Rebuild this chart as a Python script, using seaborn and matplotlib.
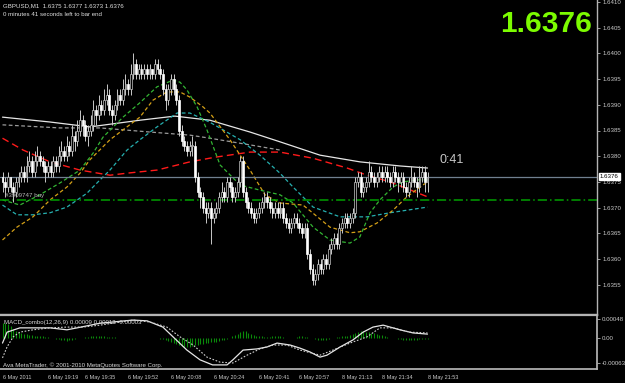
import numpy as np
import pandas as pd
import matplotlib
matplotlib.use("Agg")
import matplotlib.pyplot as plt
import seaborn as sns

# ---------------- data (prices in pips above BASE) ----------------
BASE = 1.6300
PIP = 0.0001

opens_p = [76,75,74,76,74,73,75,76,77,76, 78,79,77,79,80,79,78,77,78,77,
           79,78,80,81,80,82,81,84,83,85, 87,86,84,85,86,89,88,90,89,91,
           92,89,88,90,92,91,93,94,93,96, 98,96,97,96,97,96,97,96,98,97,
           96,93,91,93,95,93,91,85,83,82, 81,82,82,76,73,72,70,69,70,68,
           69,70,72,73,72,75,74,72,73,75, 79,73,71,70,69,68,69,70,71,72,
           71,70,69,70,69,70,68,67,66,67, 68,67,66,65,66,61,58,56,57,59,
           58,60,59,62,63,64,63,66,67,68, 67,68,69,75,76,73,74,75,77,76,
           75,76,77,76,77,76,75,77,76,75, 76,74,73,75,76,75,74,76,77,75]
highs_p = [77,76,77,76,75,76,77,78,78,80, 81,80,81,82,81,80,79,79,79,80,
           80,82,83,82,84,83,86,85,87,89, 88,87,86,88,91,90,92,91,93,94,
           93,90,91,93,93,95,96,95,98,100, 99,98,98,98,98,98,97,99,99,98,
           97,94,94,96,96,94,92,86,84,83, 83,84,83,77,74,73,71,71,71,70,
           71,73,75,74,76,76,75,74,76,80, 80,74,72,71,70,70,71,72,73,73,
           72,71,71,71,71,71,69,68,68,69, 69,68,67,67,67,62,59,58,60,60,
           61,61,63,64,65,65,67,68,69,69, 69,70,76,77,77,75,76,79,78,77,
           77,78,78,78,78,77,78,78,77,77, 77,75,76,78,77,76,78,78,78,77]
lows_p = [73,72,73,73,71,72,74,75,75,75, 77,76,76,78,78,77,75,76,76,76,
          77,77,79,79,79,80,80,81,82,84, 84,83,82,84,85,86,87,88,88,90,
          88,86,87,89,90,90,92,92,92,95, 95,95,95,95,95,95,95,95,96,95,
          92,89,90,92,92,90,84,82,81,80, 80,80,75,72,70,69,67,68,63,67,
          68,69,71,71,71,73,71,71,72,74, 72,70,69,68,67,67,68,69,70,70,
          69,68,68,68,68,67,66,65,65,66, 66,65,64,64,60,57,55,55,56,57,
          57,58,58,61,62,62,62,65,66,66, 66,67,68,74,72,72,73,74,75,74,
          74,75,75,75,75,74,74,75,73,74, 73,72,72,74,74,72,73,75,73,73]
closes_p = [75,74,76,74,73,75,76,77,76,78, 79,77,79,80,79,78,77,78,77,79,
            78,80,81,80,82,81,84,83,85,87, 86,84,85,86,89,88,90,89,91,92,
            89,88,90,92,91,93,94,93,96,98, 96,97,96,97,96,97,96,98,97,96,
            93,91,93,95,93,91,85,83,82,81, 82,82,76,73,72,70,69,70,68,69,
            70,72,73,72,75,74,72,73,75,79, 73,71,70,69,68,69,70,71,72,71,
            70,69,70,69,70,68,67,66,67,68, 67,66,65,66,61,58,56,57,59,58,
            60,59,62,63,64,63,66,67,68,67, 68,69,75,76,73,74,75,77,76,75,
            76,77,76,77,76,75,77,76,75,76, 74,73,75,76,75,74,76,77,75,76]

# moving averages (bar index, pips above BASE)
ma_white_x = [0, 17.8, 32.7, 51.4, 64.5, 77.6, 92.6, 103.8, 118.8, 133.7, 148.7, 159]
ma_white_y = [87.6, 86.65, 85.7, 87.0, 87.8, 87.0, 84.7, 82.8, 80.2, 78.9, 78.1, 77.7]
ma_grey_x = [0, 21.5, 36.5, 55.2, 70.1, 77.6, 92.6, 103.8]
ma_grey_y = [86.1, 85.5, 85.5, 84.7, 84.1, 83.5, 82.2, 81.2]
ma_red_x = [0, 7.7, 17.8, 29, 40.2, 46.6, 57.8, 70.1, 79.5, 92.6, 103.8, 116.2, 128.9, 136.4, 145, 159]
ma_red_y = [83.5, 81.2, 78.9, 77.3, 76.3, 76.7, 77.3, 78.9, 79.8, 80.8, 80.8, 79.6, 77.7, 76.3, 75.0, 72.1]
ma_teal_x = [0, 5.4, 11.4, 17.8, 24.1, 31.6, 36.5, 40.2, 46.6, 51.4, 57.8, 65.3, 70.1, 77.6, 88.9,
             96.3, 103.8, 108.7, 116.2, 126.3, 136.4, 145, 159]
ma_teal_y = [70.5, 68.6, 68.6, 69.0, 70.1, 72.8, 75.4, 77.3, 81.2, 83.2, 85.7, 88.4, 88.4, 86.6, 83.2,
             80.2, 76.7, 74.0, 70.1, 68.2, 68.2, 69.0, 70.1]
ma_yellow_x = [0, 5.4, 11.4, 17.8, 24.1, 29, 32.7, 40.2, 51.4, 56.3, 61.5, 66.4, 70.1, 75, 77.6, 85.1,
               92.6, 98.2, 103.8, 112.4, 116.2, 122.5, 130, 133.7, 140.1, 146.1, 151.3, 156.2, 159]
ma_yellow_y = [63.7, 66.2, 68.2, 71.5, 74.0, 76.7, 79.3, 83.2, 87.6, 90.9, 92.5, 92.5, 91.5, 89.6, 88.4, 83.2,
               77.3, 72.5, 70.9, 70.5, 68.9, 66.2, 65.1, 65.3, 67.0, 69.5, 72.1, 74.0, 75.0]
ma_green_x = [0, 6.5, 14, 21.5, 29, 33.9, 37.6, 45.1, 51.4, 57.8, 63.8, 66.4, 69, 72.8, 76.5, 81.4, 88.9,
              96.3, 103.8, 108.7, 116.2, 122.5, 130, 133.7, 137.5, 141.2, 146.1, 149.8, 155.1, 159]
ma_green_y = [71.5, 70.5, 72.5, 74.8, 77.3, 80.6, 83.7, 87.6, 90.4, 93.5, 94.8, 94.4, 92.9, 89.6, 85.1, 78.3, 74.4,
              73.4, 72.5, 70.9, 66.2, 63.7, 63.1, 64.3, 69.0, 71.5, 74.0, 75.0, 75.4, 75.4]

# MACD (units of 1e-5)
macd_x = [0, 1.7, 6.5, 17.8, 24.1, 27.9, 36.5, 48.8, 54.1, 60.0, 63.8, 69.0, 73.9, 78.6, 84.0, 86.2, 90.0,
          95.2, 99.0, 102.7, 107.6, 111.3, 115.1, 118.8, 121.4, 126.3, 131.1, 134.9, 138.6, 142.4, 148.7, 153.6, 159]
macd_y = [-13, 15, 26, 26, 21, 26, 38, 46, 44, 28, 3, -31, -56, -69, -69, -56, -31,
          -28, -23, -13, -18, -26, -36, -49, -44, -23, -5, 15, 28, 33, 21, 13, 10]
sig_x = [0, 1.7, 4.0, 6.5, 11.4, 17.8, 24.1, 30.1, 36.5, 48.8, 55.2, 61.5, 66.4, 71.3, 76.5, 81.4, 86.2,
         91.5, 96.3, 101.2, 106.4, 111.3, 118.8, 123.6, 130.0, 136.4, 141.2, 146.1, 152.4, 159]
sig_y = [-51, -23, 3, 15, 21, 26, 28, 28, 33, 46, 41, 28, 3, -18, -49, -62, -64,
         -44, -28, -18, -18, -31, -44, -31, -13, 3, 26, 26, 15, 13]
hist_v = [38,38,36,30,22, 18,15,12,10,9, 8,7,6,6,5, 4,3,2,1,0,
          -2,-3,-5,-6,-7, -6,-4,-3,-1,0, 1,2,3,4,5, 5,5,4,4,3,
          3,2,2,1,1, 1,0,0,0,0, 0,0,1,1,1, 1,0,-1,-1,-2,
          -3,-5,-7,-9,-12, -15,-18,-21,-23,-23, -22,-20,-18,-17,-16, -15,-13,-12,-11,-10,
          -9,-8,-6,-5,-3, 0,4,7,11,15, 19,17,14,11,8, 6,5,4,3,2,
          3,4,5,6,5, 3,1,0,0,1, 3,5,4,3,2, 1,-1,-3,-5,-5,
          -5,-4,-3,-1,1, 2,3,4,5,6, 7,9,12,15,17, 17,16,15,13,12,
          10,8,7,5,3, 1,0,-1,-2,-3, -4,-5,-5,-5,-4, -4,-3,-3,-3,-3]

bid_price = 1.6376
order_price = 1.63715
price_ticks = [1.6355, 1.6360, 1.6365, 1.6370, 1.6375, 1.6380, 1.6385, 1.6390, 1.6395, 1.6400, 1.6405, 1.6410]
macd_ticks = [0.00048, 0.0, -0.00063]
macd_tick_labels = ["0.00048", "0.00", "-0.00063"]
time_idx = [0, 17, 31, 47, 63, 79, 96, 111, 127, 142, 159]
time_labels = ["6 May 2011", "6 May 19:19", "6 May 19:35", "6 May 19:52", "6 May 20:08", "6 May 20:24",
               "6 May 20:41", "6 May 20:57", "8 May 21:13", "8 May 21:34", "8 May 21:53"]

# ---------------- style ----------------
sns.set_theme(style="dark")
plt.rcParams['font.family'] = ['Liberation Sans', 'DejaVu Sans']
plt.rcParams['axes.facecolor'] = 'black'
plt.rcParams['figure.facecolor'] = 'black'

W, H = 625, 383
fig = plt.figure(figsize=(W / 100, H / 100), dpi=100, facecolor='black')

def rect(l, t, r, b):
    return [l / W, 1 - b / H, (r - l) / W, (b - t) / H]

ax = fig.add_axes(rect(0, 0, 597, 315))
axm = fig.add_axes(rect(0, 315, 597, 369))

o = BASE + np.array(opens_p) * PIP
h = BASE + np.array(highs_p) * PIP
l = BASE + np.array(lows_p) * PIP
c = BASE + np.array(closes_p) * PIP
df = pd.DataFrame({"i": np.arange(len(c)), "o": o, "h": h, "l": l, "c": c})

scale = 425.0 / 159
xlim = (-2.5 / scale, 159 + (597 - 427.5) / scale)
GREY = '#c8c8c8'
AXC = '#b4b4b4'
FS = 4.4

# moving average lines
def ma(xs, ys, color, dashes, lw=0.9):
    sns.lineplot(x=xs, y=BASE + np.array(ys) * PIP, ax=ax, color=color, lw=lw, sort=False)
    ln = ax.lines[-1]
    if dashes:
        ln.set_dashes(dashes)

ma(ma_grey_x, ma_grey_y, '#9a9a9a', (3, 2))
ma(ma_white_x, ma_white_y, '#e6e6e6', None)
ma(ma_red_x, ma_red_y, '#ff1a1a', (5, 3), lw=1.0)
ma(ma_teal_x, ma_teal_y, '#26b0b0', (3, 2))
ma(ma_yellow_x, ma_yellow_y, '#d4a017', (3, 2))
ma(ma_green_x, ma_green_y, '#33b533', (3, 2))

# horizontal lines
ax.axhline(bid_price, color='#708090', lw=0.9)
ax.axhline(order_price, color='#00a000', lw=1.1, dashes=(6, 2, 1, 2))

# candles
ax.vlines(df["i"], df["l"], df["h"], color=GREY, lw=0.7, zorder=3)
for _, r in df.iterrows():
    lo, hi = min(r.o, r.c), max(r.o, r.c)
    ht = max(hi - lo, 0.000015)
    if r.c >= r.o:
        fc, ec = 'black', GREY
    else:
        fc, ec = 'white', 'white'
    ax.bar(r.i, ht, bottom=lo, width=0.7, color=fc, edgecolor=ec, lw=0.5, zorder=4)

ax.set_xlim(*xlim)
ax.set_ylim(1.6410 - 313 / 51400, 1.6410 + 2 / 51400)
ax.set_xticks([])
ax.yaxis.tick_right()
ax.set_yticks(price_ticks)
ax.set_yticklabels([f"{p:.4f}" for p in price_ticks])
ax.tick_params(axis='y', colors=AXC, labelcolor=GREY, labelsize=FS, length=2.5, width=0.6, pad=1.2)
for s in ['left', 'top']:
    ax.spines[s].set_visible(False)
ax.spines['right'].set_color(AXC)
ax.spines['right'].set_linewidth(1.0)
ax.spines['bottom'].set_color(AXC)
ax.spines['bottom'].set_linewidth(1.6)
ax.grid(False)

# price box on axis
ax.text(1.005, bid_price, "1.6376", transform=ax.get_yaxis_transform(), ha='left', va='center',
        fontsize=FS, color='black', bbox=dict(boxstyle='square,pad=0.15', fc='white', ec='white'), zorder=10,
        clip_on=False)

# MACD panel
axm.vlines(np.arange(len(hist_v)), 0, np.array(hist_v) * 1e-5, color='#0a8a0a', lw=0.8)
sns.lineplot(x=macd_x, y=np.array(macd_y) * 1e-5, ax=axm, color='#e6e6e6', lw=0.9, sort=False)
sns.lineplot(x=sig_x, y=np.array(sig_y) * 1e-5, ax=axm, color='#d0d0d0', lw=0.8, sort=False)
axm.lines[-1].set_dashes((1.5, 1.5))
axm.set_xlim(*xlim)
axm.set_ylim(-0.000795, 0.00059)
axm.yaxis.tick_right()
axm.set_yticks(macd_ticks)
axm.set_yticklabels(macd_tick_labels)
axm.set_xticks(time_idx)
axm.set_xticklabels(time_labels, ha='left')
axm.tick_params(axis='y', colors=AXC, labelcolor=GREY, labelsize=FS, length=2.5, width=0.6, pad=1.0)
axm.tick_params(axis='x', colors=AXC, labelcolor=GREY, labelsize=4.0, length=2.5, width=0.6, pad=1.5)
axm.spines['left'].set_visible(False)
for s in ['right', 'bottom', 'top']:
    axm.spines[s].set_color(AXC)
axm.spines['top'].set_linewidth(1.6)
axm.grid(False)
axm.set_xlabel("")
axm.set_ylabel("")
ax.set_xlabel("")
ax.set_ylabel("")

# texts
def ftext(x, y, s, **kw):
    fig.text(x / W, 1 - y / H, s, **kw)

ftext(3, 5.5, "GBPUSD,M1  1.6375 1.6377 1.6373 1.6376", fontsize=FS, color='#e0e0e0', va='center')
ftext(3, 14, "0 minutes 41 seconds left to bar end", fontsize=FS, color='#e0e0e0', va='center')
ftext(592, 23.5, "1.6376", fontsize=21.5, fontweight='bold', color='#7cfc00', ha='right', va='center')
ftext(440, 160, "0:41", fontsize=9, color='#c8c8c8', va='center')
ftext(5, 195.5, "#3909747 buy", fontsize=FS, color='#b8b8b8', va='center')
ftext(4, 322.5, "MACD_combo(12,26,9) 0.00009 0.00012 -0.00003", fontsize=FS, color='#d8d8d8', va='center')
ftext(3, 365.5, "Ava MetaTrader, \u00a9 2001-2010 MetaQuotes Software Corp.", fontsize=FS, color='#d8d8d8',
      va='center')

fig.savefig("out.png", dpi=100, facecolor='black')
